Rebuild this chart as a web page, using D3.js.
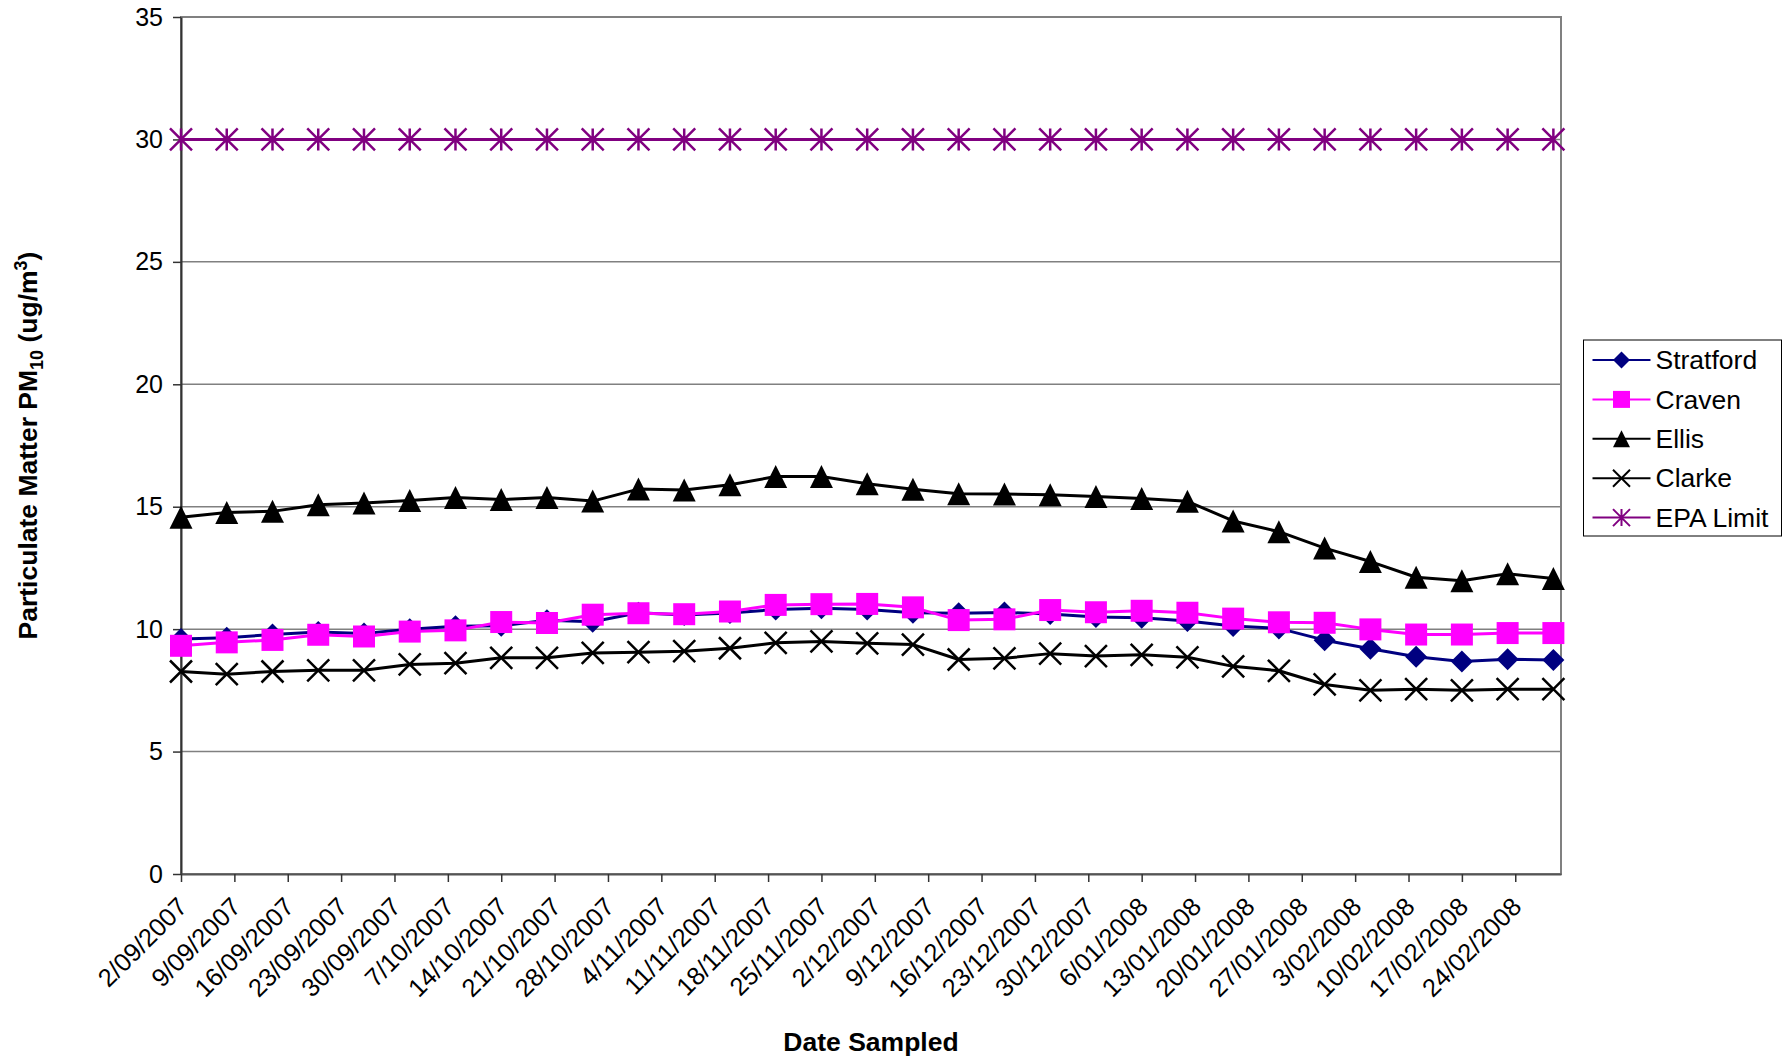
<!DOCTYPE html>
<html>
<head>
<meta charset="utf-8">
<script src="https://cdn.jsdelivr.net/npm/d3@7"></script>
<style>
  body { margin: 0; background: #fff; }
  text { font-family: "Liberation Sans", Arial, sans-serif; }
</style>
</head>
<body>
<div id="chart"></div>
<script>
// sample dates (every 6 days)
const SAMPLE_DATES = ["2/09/2007", "8/09/2007", "14/09/2007", "20/09/2007", "26/09/2007",
  "2/10/2007", "8/10/2007", "14/10/2007", "20/10/2007", "26/10/2007",
  "1/11/2007", "7/11/2007", "13/11/2007", "19/11/2007", "25/11/2007",
  "1/12/2007", "7/12/2007", "13/12/2007", "19/12/2007", "25/12/2007", "31/12/2007",
  "6/01/2008", "12/01/2008", "18/01/2008", "24/01/2008", "30/01/2008",
  "5/02/2008", "11/02/2008", "17/02/2008", "23/02/2008", "29/02/2008"];

const STRATFORD = [9.6, 9.65, 9.78, 9.88, 9.82, 10.0, 10.12, 10.14, 10.36, 10.3,
  10.67, 10.58, 10.66, 10.8, 10.85, 10.8, 10.67, 10.65, 10.68, 10.62, 10.5,
  10.47, 10.33, 10.13, 10.03, 9.55, 9.2, 8.87, 8.68, 8.77, 8.74];
const CRAVEN = [9.32, 9.46, 9.56, 9.77, 9.7, 9.9, 9.95, 10.29, 10.25, 10.59,
  10.65, 10.61, 10.72, 10.99, 11.02, 11.03, 10.89, 10.37, 10.4, 10.78, 10.69,
  10.75, 10.67, 10.43, 10.28, 10.26, 9.99, 9.78, 9.78, 9.84, 9.84];
const ELLIS = [14.57, 14.76, 14.81, 15.08, 15.15, 15.25, 15.38, 15.29, 15.38, 15.23,
  15.72, 15.68, 15.9, 16.23, 16.23, 15.94, 15.71, 15.53, 15.52, 15.49, 15.42,
  15.34, 15.22, 14.42, 13.98, 13.31, 12.76, 12.12, 11.98, 12.26, 12.07];
const CLARKE = [8.27, 8.16, 8.27, 8.32, 8.32, 8.56, 8.61, 8.83, 8.83, 9.03,
  9.06, 9.1, 9.22, 9.44, 9.5, 9.42, 9.37, 8.76, 8.81, 9.0, 8.9,
  8.95, 8.85, 8.48, 8.3, 7.74, 7.5, 7.55, 7.5, 7.55, 7.55];
const EPA_LIMIT = [30, 30, 30, 30, 30, 30, 30, 30, 30, 30,
  30, 30, 30, 30, 30, 30, 30, 30, 30, 30, 30,
  30, 30, 30, 30, 30, 30, 30, 30, 30, 30];

const TICK_LABELS = ["2/09/2007", "9/09/2007", "16/09/2007", "23/09/2007", "30/09/2007",
  "7/10/2007", "14/10/2007", "21/10/2007", "28/10/2007", "4/11/2007", "11/11/2007",
  "18/11/2007", "25/11/2007", "2/12/2007", "9/12/2007", "16/12/2007", "23/12/2007",
  "30/12/2007", "6/01/2008", "13/01/2008", "20/01/2008", "27/01/2008", "3/02/2008",
  "10/02/2008", "17/02/2008", "24/02/2008"];
const Y_TICKS = [0, 5, 10, 15, 20, 25, 30, 35];

const AXIS_START = "2/09/2007", AXIS_END = "1/03/2008";

// stuff
var width = 1789,
    height = 1060;
var plot = {left: 181, top: 17, right: 1561, bottom: 874};

const parseDate = d3.utcParse("%d/%m/%Y");

var svg = d3.select("#chart").append("svg")
  .attr("width", width)
  .attr("height", height);

const x = d3.scaleUtc()
  .domain([parseDate(AXIS_START), parseDate(AXIS_END)])
  .range([plot.left, plot.right]);
const y = d3.scaleLinear()
  .domain([0, 35])
  .range([plot.bottom, plot.top]);

// gridlines
svg.append("g")
  .selectAll("line")
  .data(Y_TICKS.filter(v => v > 0 && v < 35))
  .join("line")
    .attr("x1", plot.left).attr("x2", plot.right)
    .attr("y1", d => y(d)).attr("y2", d => y(d))
    .attr("stroke", "#808080")
    .attr("stroke-width", 1.5);

// plot border
svg.append("rect")
  .attr("x", plot.left).attr("y", plot.top)
  .attr("width", plot.right - plot.left)
  .attr("height", plot.bottom - plot.top)
  .attr("fill", "none")
  .attr("stroke", "#808080")
  .attr("stroke-width", 2);

// y axis
var yAxis = svg.append("g")
  .attr("transform", "translate(" + plot.left + ",0)")
  .call(d3.axisLeft(y).tickValues(Y_TICKS).tickSize(8).tickPadding(10).tickSizeOuter(0));
yAxis.select(".domain").attr("stroke", "#333").attr("stroke-width", 2);
yAxis.selectAll(".tick line").attr("stroke", "#333").attr("stroke-width", 1.5);
yAxis.selectAll("text")
  .attr("font-size", 25)
  .attr("font-family", "Liberation Sans, Arial, sans-serif")
  .attr("fill", "#000");

// x axis
var tickDates = TICK_LABELS.map(parseDate);
var xAxis = svg.append("g")
  .attr("transform", "translate(0," + plot.bottom + ")")
  .call(d3.axisBottom(x).tickValues(tickDates).tickSize(8).tickSizeOuter(0)
    .tickFormat((d, i) => TICK_LABELS[i]));
xAxis.select(".domain").attr("stroke", "#555").attr("stroke-width", 2);
xAxis.selectAll(".tick line").attr("stroke", "#333").attr("stroke-width", 1.5);
xAxis.selectAll("text")
  .attr("font-size", 25.5)
  .attr("font-family", "Liberation Sans, Arial, sans-serif")
  .attr("fill", "#000")
  .attr("text-anchor", "end")
  .attr("x", 0).attr("y", 0).attr("dy", "0.35em")
  .attr("transform", "translate(1,28) rotate(-45)");

// axis titles
svg.append("text")
  .attr("x", (plot.left + plot.right) / 2)
  .attr("y", 1051)
  .attr("text-anchor", "middle")
  .attr("font-size", 26.5)
  .attr("font-weight", "bold")
  .text("Date Sampled");

var yTitle = svg.append("text")
  .attr("transform", "translate(37," + ((plot.top + plot.bottom) / 2) + ") rotate(-90)")
  .attr("text-anchor", "middle")
  .attr("font-size", 26.5)
  .attr("font-weight", "bold");
yTitle.append("tspan").text("Particulate Matter PM");
yTitle.append("tspan").attr("font-size", 18).attr("dy", 6).text("10");
yTitle.append("tspan").attr("dy", -6).text(" (ug/m");
yTitle.append("tspan").attr("font-size", 18).attr("dy", -10).text("3");
yTitle.append("tspan").attr("dy", 10).text(")");

// marker shapes
function markerPath(kind, s) {
  var h = s / 2;
  if (kind === "diamond") return "M0," + (-h) + "L" + h + ",0L0," + h + "L" + (-h) + ",0Z";
  if (kind === "square") return "M" + (-h) + "," + (-h) + "h" + s + "v" + s + "h" + (-s) + "Z";
  if (kind === "triangle") return "M0," + (-h) + "L" + h + "," + h + "L" + (-h) + "," + h + "Z";
  if (kind === "x") return "M" + (-h) + "," + (-h) + "L" + h + "," + h + "M" + h + "," + (-h) + "L" + (-h) + "," + h;
  if (kind === "star") return "M" + (-h) + "," + (-h) + "L" + h + "," + h + "M" + h + "," + (-h) + "L" + (-h) + "," + h + "M0," + (-h) + "L0," + h;
}

const SERIES = [
  {name: "Stratford", values: STRATFORD, color: "#000080", marker: "diamond", size: 22, filled: true},
  {name: "Craven", values: CRAVEN, color: "#FF00FF", marker: "square", size: 22, filled: true},
  {name: "Ellis", values: ELLIS, color: "#000000", marker: "triangle", size: 23, filled: true},
  {name: "Clarke", values: CLARKE, color: "#000000", marker: "x", size: 22, filled: false},
  {name: "EPA Limit", values: EPA_LIMIT, color: "#800080", marker: "star", size: 22, filled: false}
];

var sampleDates = SAMPLE_DATES.map(parseDate);
var line = d3.line()
  .x((d, i) => x(sampleDates[i]))
  .y(d => y(d));

SERIES.forEach(function(s) {
  var g = svg.append("g");
  g.append("path")
    .attr("d", line(s.values))
    .attr("fill", "none")
    .attr("stroke", s.color)
    .attr("stroke-width", 3)
    .attr("stroke-linejoin", "round");
  g.selectAll("path.mk")
    .data(s.values)
    .join("path")
      .attr("class", "mk")
      .attr("transform", (d, i) => "translate(" + x(sampleDates[i]) + "," + y(d) + ")")
      .attr("d", markerPath(s.marker, s.size))
      .attr("fill", s.filled ? s.color : "none")
      .attr("stroke", s.color)
      .attr("stroke-width", s.filled ? 0 : 2.5);
});

// legend
var legend = svg.append("g").attr("transform", "translate(1583.5,340)");
legend.append("rect")
  .attr("width", 198).attr("height", 196)
  .attr("fill", "#fff")
  .attr("stroke", "#000")
  .attr("stroke-width", 1);
var item = legend.selectAll("g.item")
  .data(SERIES)
  .join("g")
    .attr("class", "item")
    .attr("transform", (d, i) => "translate(0," + (20 + i * 39.4) + ")");
item.append("line")
  .attr("x1", 9).attr("x2", 67)
  .attr("stroke", d => d.color)
  .attr("stroke-width", 2);
item.append("path")
  .attr("transform", "translate(38,0)")
  .attr("d", d => markerPath(d.marker, 17))
  .attr("fill", d => d.filled ? d.color : "none")
  .attr("stroke", d => d.color)
  .attr("stroke-width", d => d.filled ? 0 : 2);
item.append("text")
  .attr("x", 72)
  .attr("dy", "0.35em")
  .attr("font-size", 26.5)
  .text(d => d.name);
</script>
</body>
</html>
